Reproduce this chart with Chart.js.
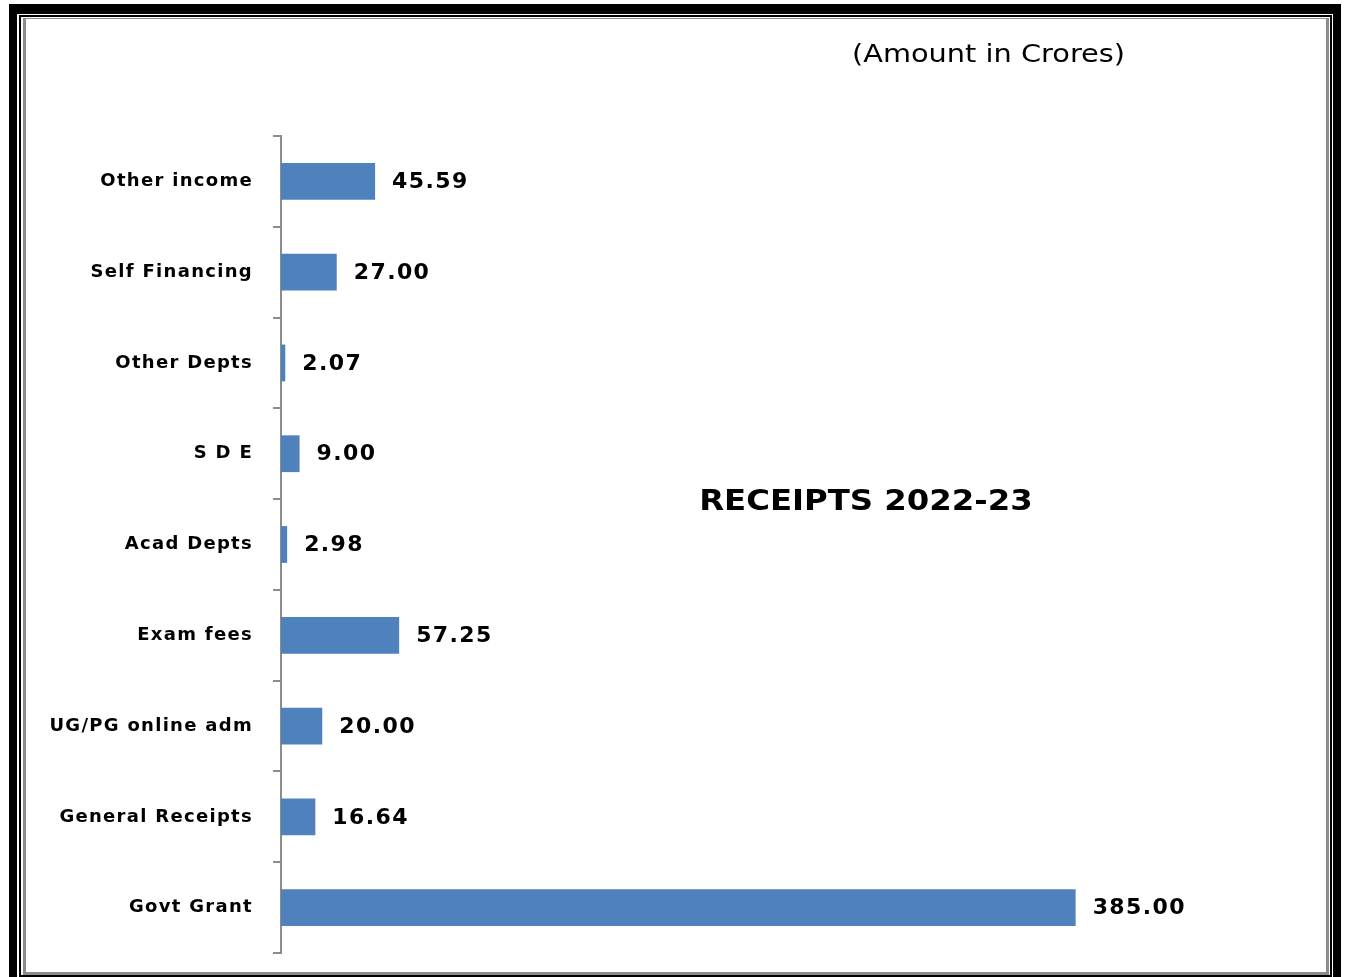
<!DOCTYPE html>
<html>
<head>
<meta charset="utf-8">
<script src="https://cdn.jsdelivr.net/npm/chart.js@4"></script>
<style>
  html, body { margin: 0; padding: 0; background: #fff; overflow: hidden; }
  #wrap { position: relative; width: 1346px; height: 977px; overflow: hidden; background: #fff; }
  .f1 { position: absolute; left: 9px; top: 4px; width: 1316px; height: 1000px; border: 8px solid #000; border-top-width: 10px; box-sizing: content-box; }
  .f2 { position: absolute; left: 19px; top: 15px; width: 1309px; height: 958px; border: 2px solid #000; }
  .f3 { position: absolute; left: 23px; top: 18px; width: 1300px; height: 953px; border-style: solid; border-color: #8c8c8c; border-width: 1px 3px 3px 3px; }
  canvas { position: absolute; left: 0; top: 0; }
  .txt { position: absolute; font-family: "DejaVu Sans", Verdana, sans-serif; color: #000; white-space: nowrap; }
  #sub { left: 852px; top: 40px; font-size: 24px; transform-origin: left center; transform: scaleX(1.2); }
  #ttl { left: 866px; top: 500px; font-size: 28px; font-weight: bold; transform: translate(-50%, -50%) scaleX(1.155); }
</style>
</head>
<body>
<div id="wrap">
  <div class="f1"></div>
  <div class="f2"></div>
  <div class="f3"></div>
  <canvas id="c" width="1346" height="977"></canvas>
  <div class="txt" id="sub">(Amount in Crores)</div>
  <div class="txt" id="ttl">RECEIPTS 2022-23</div>
</div>
<script>
const categories = ["Other income", "Self Financing", "Other Depts", "S D E", "Acad Depts", "Exam fees", "UG/PG online adm", "General Receipts", "Govt Grant"];
const receipts = [45.59, 27.00, 2.07, 9.00, 2.98, 57.25, 20.00, 16.64, 385.00];

const spacing = {
  id: 'spacing',
  beforeDraw(chart) { chart.ctx.letterSpacing = '1.3px'; }
};

const valueLabels = {
  id: 'valueLabels',
  afterDatasetsDraw(chart) {
    const ctx = chart.ctx;
    const meta = chart.getDatasetMeta(0);
    ctx.save();
    ctx.letterSpacing = '1.4px';
    ctx.font = 'bold 22px "DejaVu Sans", Verdana, sans-serif';
    ctx.fillStyle = '#000';
    ctx.textAlign = 'left';
    ctx.textBaseline = 'middle';
    meta.data.forEach((bar, i) => {
      ctx.fillText(receipts[i].toFixed(2), bar.x + 17, bar.y + 1);
    });
    ctx.restore();
  }
};

new Chart(document.getElementById('c'), {
  type: 'bar',
  data: {
    labels: categories,
    datasets: [{
      data: receipts,
      backgroundColor: '#4f81bd',
      borderWidth: 0,
      barPercentage: 0.9,
      categoryPercentage: 0.45
    }]
  },
  options: {
    indexAxis: 'y',
    responsive: false,
    animation: false,
    devicePixelRatio: 1,
    layout: { padding: { left: 0, top: 136, bottom: 24, right: 33 } },
    plugins: { legend: { display: false }, tooltip: { enabled: false }, title: { display: false } },
    scales: {
      x: { display: false, min: 0, max: 500 },
      y: {
        afterFit(scale) { scale.width = 281; scale.paddingTop = 0; scale.paddingBottom = 0; },
        border: { display: true, color: '#8c8c8c', width: 2 },
        grid: { display: true, drawOnChartArea: false, drawTicks: true, tickLength: 8, color: '#8c8c8c', lineWidth: 2, offset: true },
        ticks: { color: '#000', padding: 20, font: { family: '"DejaVu Sans", Verdana, sans-serif', size: 18, weight: 'bold' } }
      }
    }
  },
  plugins: [spacing, valueLabels]
});
</script>
</body>
</html>
